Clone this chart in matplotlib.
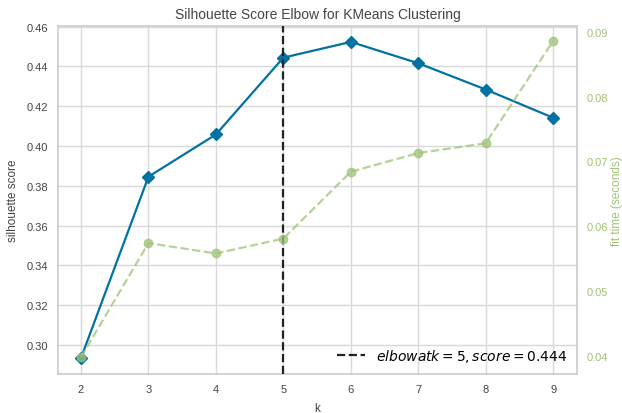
import matplotlib
matplotlib.use('Agg')
import numpy as np
import matplotlib.pyplot as plt

k_values = [2, 3, 4, 5, 6, 7, 8, 9]
silhouette_scores = [0.2935, 0.3846, 0.4058, 0.4444, 0.4523, 0.4416, 0.4284, 0.4142]
fit_times = [0.0398, 0.0574, 0.0558, 0.0581, 0.0684, 0.0713, 0.0728, 0.0886]
elbow_k = 5
elbow_score = 0.444

blue = '#0272a2'
green = '#9fc377'
text_col = '#444444'

plt.rcParams['font.family'] = ['Liberation Sans', 'DejaVu Sans']
plt.rcParams['axes.unicode_minus'] = False


def draw_chart():
    fig = plt.figure(figsize=(6.22, 4.14), dpi=100)
    ax = fig.add_axes([0.0928, 0.0942, 0.835, 0.8406])
    ax.set_facecolor('white')

    ax.plot(k_values, silhouette_scores, color=blue, marker='D', markersize=6, lw=1.6, zorder=3)
    ax.axvline(elbow_k, color='#222222', ls='--', lw=1.6,
               label=f'$elbow at k = {elbow_k}, score = {elbow_score:.3f}$', zorder=4)

    ax.set_xlim(1.655, 9.355)
    ax.set_ylim(0.2855, 0.4603)
    ax.set_yticks(np.arange(0.30, 0.4601, 0.02))
    ax.set_yticklabels([f'{v:.2f}' for v in np.arange(0.30, 0.4601, 0.02)])
    ax.set_xticks(k_values)
    ax.grid(True, color='#d9d9d9', lw=1.0)
    ax.set_axisbelow(True)
    for s in ax.spines.values():
        s.set_color('#cccccc')
        s.set_linewidth(1.2)
    ax.tick_params(length=0, labelsize=8, colors=text_col, pad=7)
    ax.set_xlabel('k', fontsize=8.5, color=text_col, labelpad=6)
    ax.set_ylabel('silhouette score', fontsize=8.5, color=text_col, labelpad=5)
    ax.set_title('Silhouette Score Elbow for KMeans Clustering', fontsize=10, color=text_col, pad=6)

    ax2 = ax.twinx()
    ax2.plot(k_values, fit_times, color=green, marker='o', markersize=6, lw=1.6,
             ls='--', alpha=0.75, zorder=2)
    ax2.set_ylim(0.0372, 0.0909)
    ax2.set_yticks([0.04, 0.05, 0.06, 0.07, 0.08, 0.09])
    ax2.set_yticklabels(['0.04', '0.05', '0.06', '0.07', '0.08', '0.09'])
    ax2.grid(False)
    for s in ax2.spines.values():
        s.set_visible(False)
    ax2.tick_params(length=0, labelsize=8, colors=green, pad=7)
    ax2.set_ylabel('fit time (seconds)', fontsize=8.5, color=green, labelpad=2)

    leg = ax.legend(loc='lower right', frameon=False, fontsize=10, handlelength=2.0,
                    borderaxespad=0.3)
    leg.set_zorder(10)

    fig.savefig('out.png', dpi=100, facecolor='white')


if __name__ == '__main__':
    draw_chart()
